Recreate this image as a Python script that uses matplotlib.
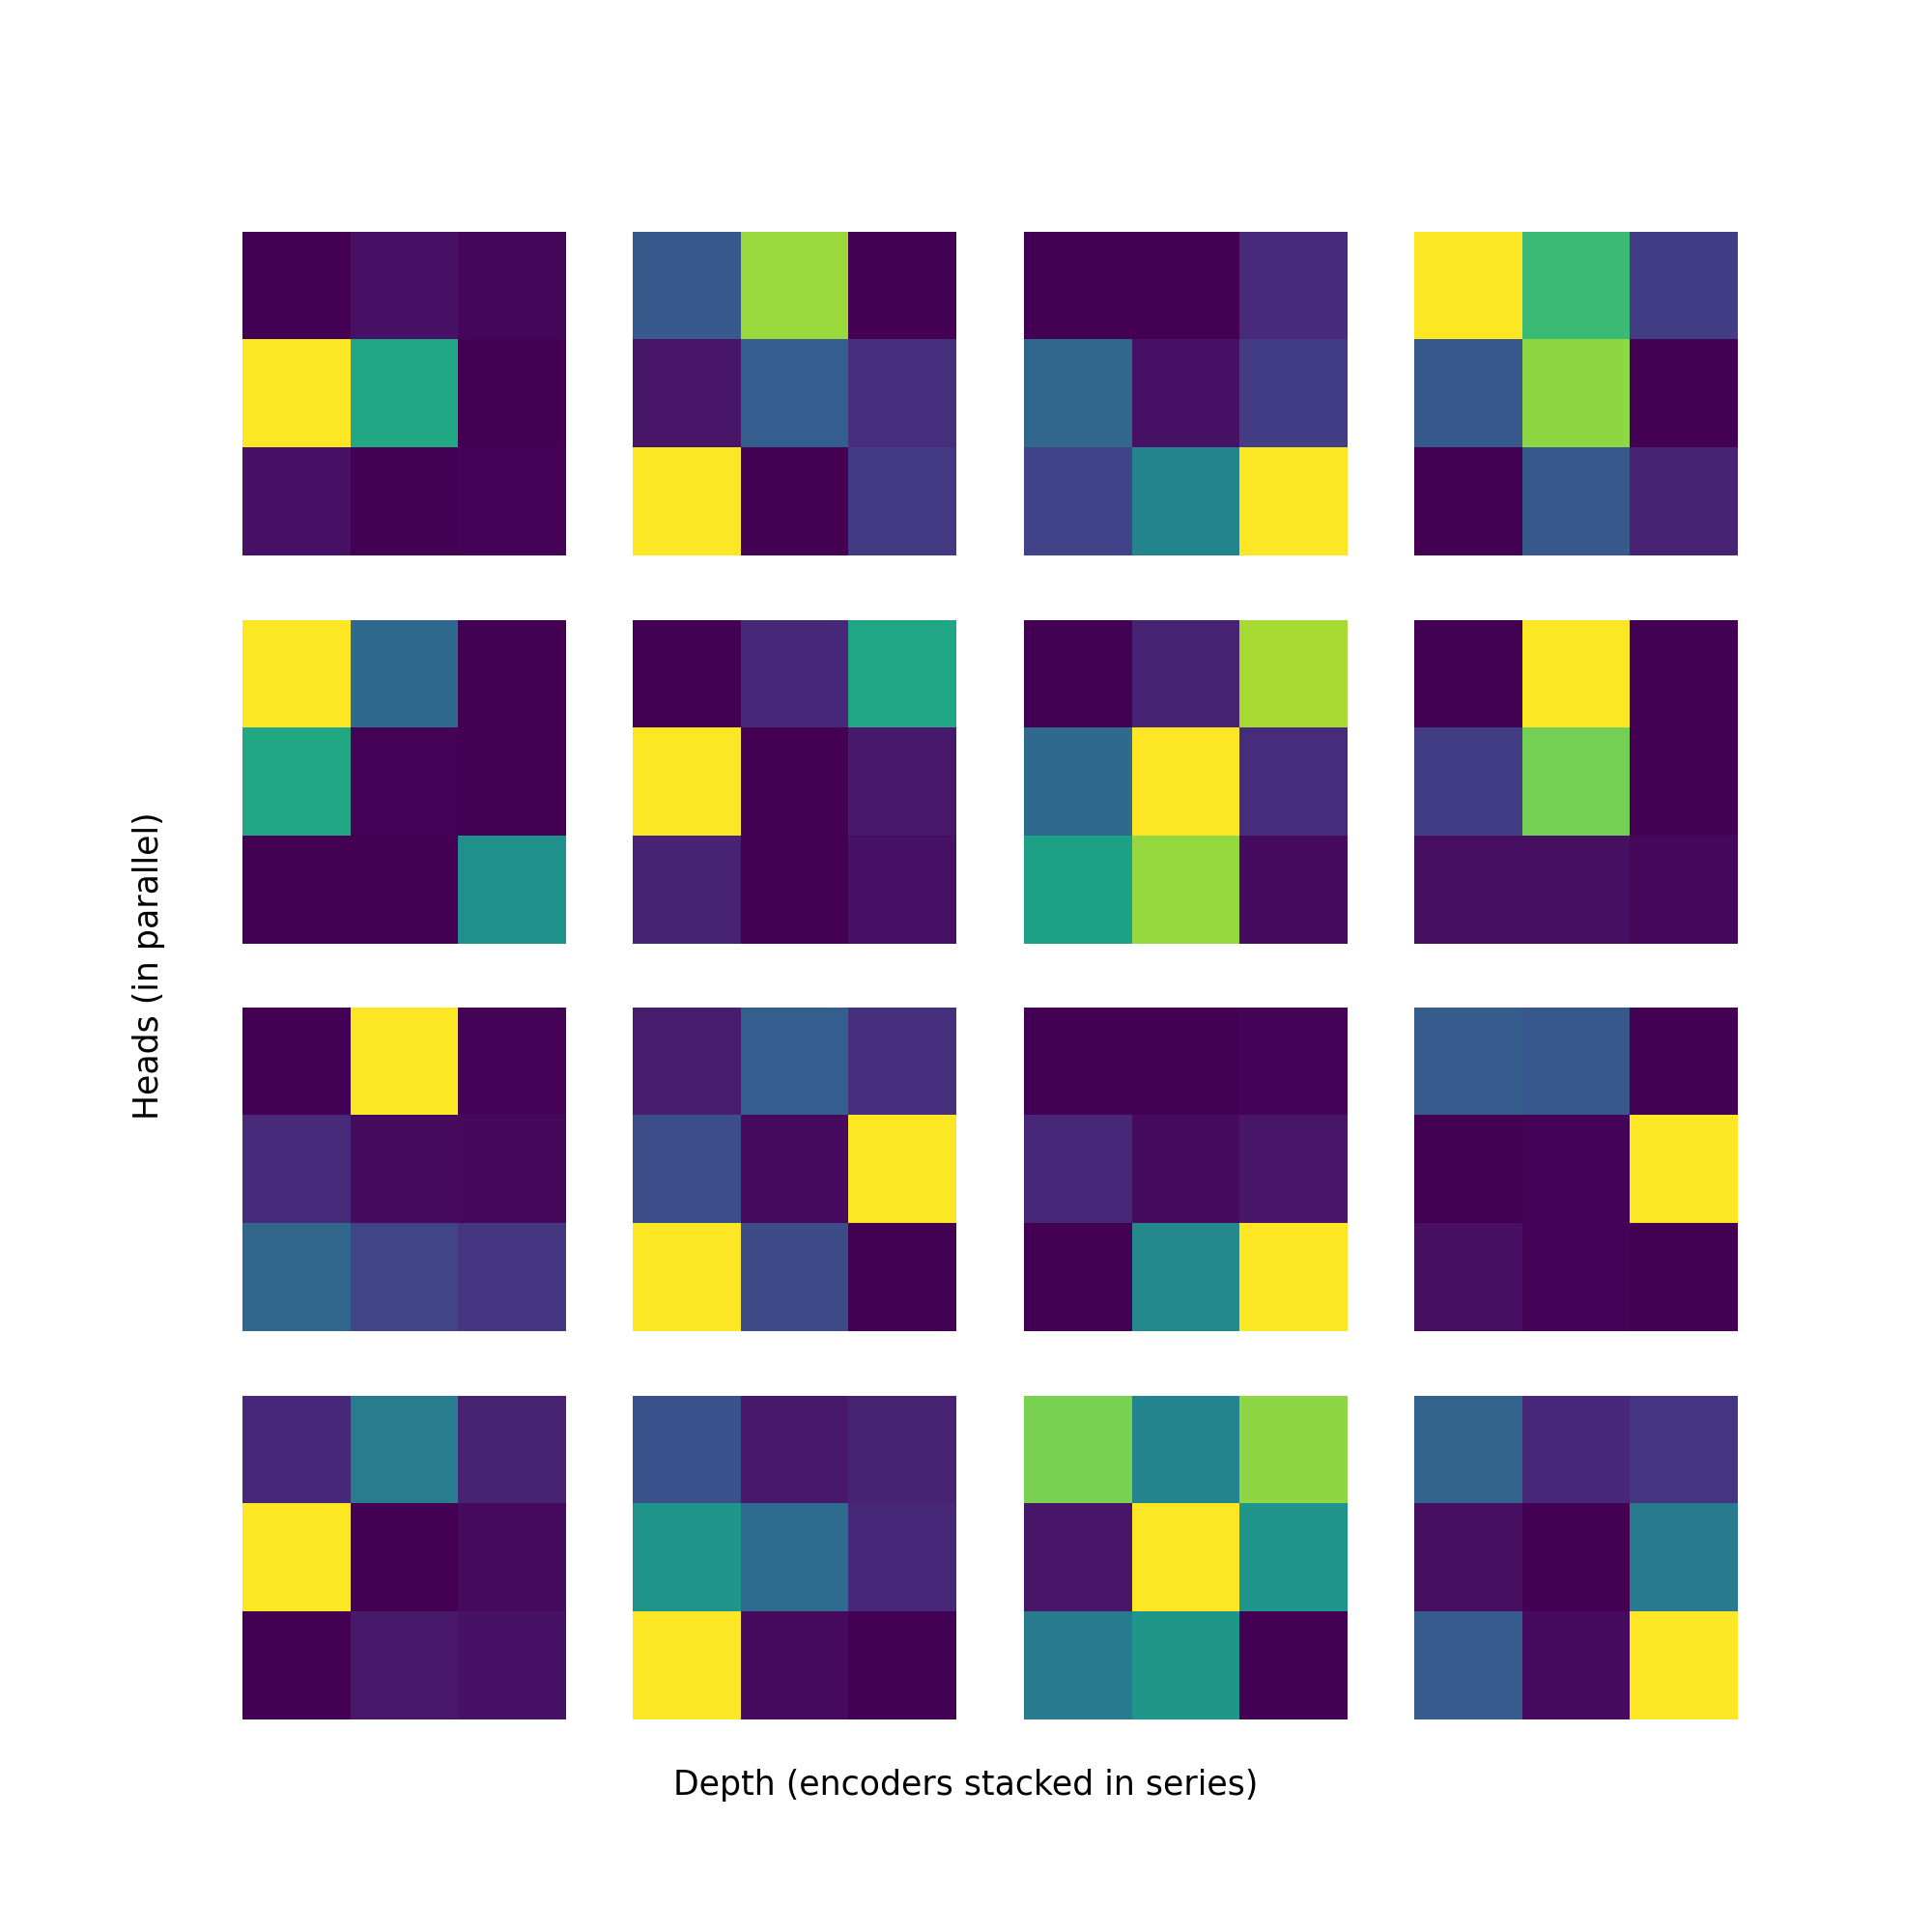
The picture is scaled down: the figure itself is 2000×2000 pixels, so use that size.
import matplotlib
matplotlib.use("Agg")
import matplotlib.pyplot as plt
import numpy as np

# attention-like weights per (head, depth) panel, 3x3 each
p00 = [[0.00, 0.05, 0.015], [1.00, 0.60, 0.00], [0.05, 0.00, 0.01]]
p01 = [[0.28, 0.85, 0.00], [0.06, 0.30, 0.14], [1.00, 0.00, 0.17]]
p02 = [[0.00, 0.00, 0.12], [0.33, 0.05, 0.18], [0.20, 0.45, 1.00]]
p03 = [[1.00, 0.68, 0.18], [0.28, 0.83, 0.00], [0.00, 0.28, 0.10]]

p10 = [[1.00, 0.34, 0.00], [0.60, 0.01, 0.00], [0.00, 0.00, 0.50]]
p11 = [[0.00, 0.11, 0.59], [1.00, 0.00, 0.07], [0.10, 0.00, 0.05]]
p12 = [[0.00, 0.10, 0.87], [0.34, 1.00, 0.13], [0.57, 0.84, 0.03]]
p13 = [[0.00, 1.00, 0.00], [0.18, 0.79, 0.00], [0.04, 0.04, 0.02]]

p20 = [[0.00, 1.00, 0.01], [0.12, 0.03, 0.02], [0.33, 0.21, 0.16]]
p21 = [[0.08, 0.30, 0.14], [0.24, 0.03, 1.00], [1.00, 0.23, 0.00]]
p22 = [[0.00, 0.00, 0.01], [0.11, 0.03, 0.06], [0.00, 0.47, 1.00]]
p23 = [[0.29, 0.27, 0.00], [0.00, 0.01, 1.00], [0.04, 0.01, 0.00]]

p30 = [[0.11, 0.42, 0.10], [1.00, 0.00, 0.03], [0.00, 0.07, 0.05]]
p31 = [[0.25, 0.07, 0.10], [0.52, 0.35, 0.11], [1.00, 0.03, 0.00]]
p32 = [[0.80, 0.45, 0.83], [0.06, 1.00, 0.52], [0.41, 0.53, 0.00]]
p33 = [[0.32, 0.11, 0.15], [0.04, 0.00, 0.41], [0.29, 0.03, 1.00]]

panels = [[p00, p01, p02, p03],
          [p10, p11, p12, p13],
          [p20, p21, p22, p23],
          [p30, p31, p32, p33]]

fig, axs = plt.subplots(4, 4, figsize=(10, 10))
for i in range(4):
    for j in range(4):
        axs[i, j].imshow(np.array(panels[i][j]), cmap="viridis")
        axs[i, j].axis("off")

fig.text(0.5, 0.076, "Depth (encoders stacked in series)", ha="center", va="center", fontsize=12.5)
fig.text(0.077, 0.5, "Heads (in parallel)", ha="center", va="center", rotation=90, fontsize=12.5)

plt.savefig("out.png", dpi=200)
